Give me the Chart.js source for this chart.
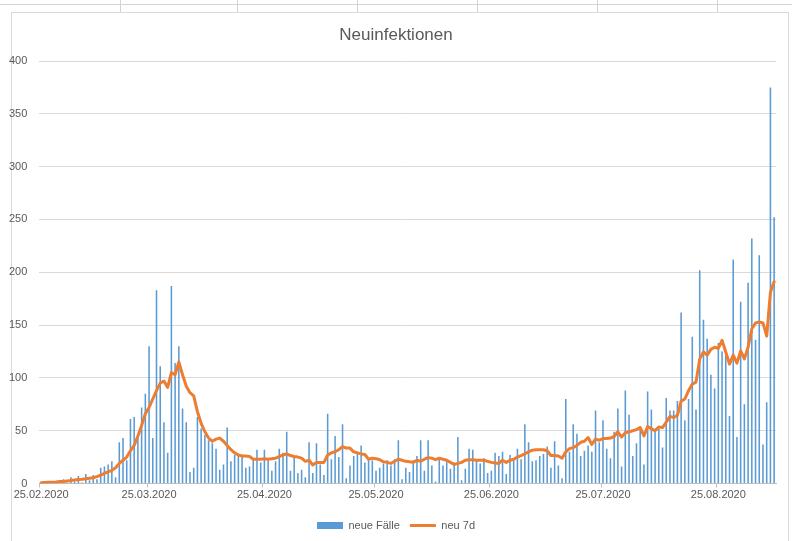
<!DOCTYPE html>
<html>
<head>
<meta charset="utf-8">
<title>Neuinfektionen</title>
<script src="https://cdn.jsdelivr.net/npm/chart.js@4/dist/chart.umd.min.js"></script>
<style>
    html, body { margin: 0; padding: 0; background: #fff; }
    #wrap { position: relative; width: 792px; height: 541px; overflow: hidden; }
    .col { position: absolute; top: 0; width: 1px; height: 12px; background: #d4d4d4; }
    #row { position: absolute; left: 0; top: 4px; width: 792px; height: 1px; background: #d4d4d4; }
    #frame { position: absolute; left: 11px; top: 12px; width: 778px; height: 540px;
             border: 1px solid #d9d9d9; box-sizing: border-box; }
    canvas { position: absolute; left: 0; top: 0; }
</style>
</head>
<body>
<div id="wrap">
    <div id="row"></div>
    <div class="col" style="left:120px"></div>
    <div class="col" style="left:237px"></div>
    <div class="col" style="left:357px"></div>
    <div class="col" style="left:477px"></div>
    <div class="col" style="left:597px"></div>
    <div class="col" style="left:717px"></div>
    <div id="frame"></div>
    <canvas id="chart" width="792" height="541"></canvas>
</div>
<script>
// daily new cases from 25.02.2020
const newCases = [
    0, 1, 0, 2, 1, 0, 4, 1, 6, 2,
    7, 1, 9, 3, 8, 4, 15, 16, 18, 21,
    6, 39, 43, 22, 61, 63, 44, 72, 85, 130,
    43, 183, 111, 58, 29, 187, 114, 130, 71, 58,
    11, 15, 63, 52, 46, 41, 38, 33, 13, 18,
    53, 21, 27, 26, 25, 15, 16, 22, 32, 20,
    32, 22, 12, 21, 33, 29, 49, 12, 25, 10,
    13, 6, 39, 10, 38, 18, 8, 66, 23, 45,
    25, 56, 5, 17, 26, 28, 36, 20, 22, 22,
    12, 15, 19, 22, 17, 23, 41, 4, 15, 11,
    22, 26, 41, 12, 41, 17, 2, 23, 17, 23,
    14, 20, 44, 3, 14, 33, 32, 22, 19, 24,
    10, 12, 29, 26, 30, 9, 27, 23, 33, 23,
    56, 39, 21, 22, 26, 28, 35, 15, 40, 17,
    5, 80, 30, 56, 47, 26, 31, 36, 30, 69,
    39, 60, 33, 24, 49, 71, 16, 88, 65, 26,
    38, 54, 18, 87, 70, 50, 52, 34, 81, 69,
    69, 78, 162, 60, 80, 139, 70, 202, 155, 137,
    103, 90, 133, 125, 122, 64, 212, 44, 172, 75,
    190, 232, 136, 216, 37, 77, 375, 252
];

// 7 day line
const avg7 = [
    0.6, 0.9, 1.1, 1.3, 1.5, 1.8, 2, 2.4, 2.8, 3.3,
    3.7, 4, 4.4, 5, 5.5, 6.5, 8, 9.5, 11, 12.5,
    15, 19, 22, 25, 31, 36, 45, 55, 66, 72,
    80, 88, 95, 97, 91, 105, 103, 115, 103, 92,
    86, 83, 68, 57, 49, 43, 40, 42, 43, 40,
    36, 32, 29, 27, 26, 26, 25.5, 23, 23, 23,
    23.5, 23, 23.5, 24, 25.5, 27, 28, 26.5, 25.5, 25,
    24, 21, 22, 17.5, 20, 20, 20, 27, 29, 30,
    32, 35, 33.5, 33.5, 30, 29, 28, 27.5, 23, 24,
    23.5, 22.5, 20.5, 20, 19, 21, 23, 22, 21, 20.5,
    20, 22, 21, 23, 24.5, 24, 22.5, 24, 23, 22,
    20, 18, 19, 20, 22, 22.5, 22.5, 22, 22, 22,
    21, 20, 19.5, 19, 22, 20, 22, 23, 25, 26.5,
    28, 30, 31.5, 32, 32, 32, 31, 26.5, 26.5, 26,
    24, 30, 33, 34, 36, 39, 40, 43.5, 37, 42,
    41, 42.5, 42.5, 43, 44.5, 49, 44, 48, 49, 50,
    51, 53, 45, 54, 52, 50, 53.5, 53, 58, 63.5,
    62.5, 64.5, 78, 80, 88, 94, 96, 118, 124.5, 121.5,
    127, 129, 128, 135.5, 124.5, 113, 121.5, 114, 125.5, 118,
    129, 146.5, 152, 153, 152, 139.5, 181, 191
];

const pad = n => String(n).padStart(2, "0");
const days = newCases.map((_, i) => {
    const d = new Date(2020, 1, 25 + i);
    return `${pad(d.getDate())}.${pad(d.getMonth() + 1)}.${d.getFullYear()}`;
});

const isTick = i => days[i] !== undefined && days[i].startsWith("25.");

const gray = "#595959";
const font = "'Liberation Sans', Arial, sans-serif";

// title and legend sit in the middle of the whole canvas, not of the plot
const centerBoxes = {
    id: "centerBoxes",
    afterLayout(chart) {
        [chart.titleBlock, chart.legend].forEach(box => {
            if (!box) return;
            const shift = (chart.width - box.left - box.right) / 2;
            box.left += shift;
            box.right += shift;
        });
    }
};

new Chart(document.getElementById("chart"), {
    data: {
        labels: days,
        datasets: [
            {
                type: "bar",
                label: "neue Fälle",
                data: newCases,
                backgroundColor: "#5b9bd5",
                borderWidth: 0,
                barPercentage: 0.42,
                categoryPercentage: 1,
                order: 1
            },
            {
                type: "line",
                label: "neu 7d",
                data: avg7,
                borderColor: "#ed7d31",
                backgroundColor: "#ed7d31",
                borderWidth: 3,
                pointRadius: 0,
                tension: 0,
                borderJoinStyle: "round",
                borderCapStyle: "round",
                fill: false,
                order: 0
            }
        ]
    },
    plugins: [centerBoxes],
    options: {
        responsive: false,
        animation: false,
        layout: { padding: { top: 12, bottom: 0, left: 0, right: 16 } },
        plugins: {
            title: {
                display: true,
                text: "Neuinfektionen",
                color: gray,
                font: { family: font, size: 17, weight: "normal" },
                padding: { top: 13, bottom: 15.6 }
            },
            legend: {
                position: "bottom",
                reverse: true,
                labels: {
                    color: gray,
                    font: { family: font, size: 11 },
                    usePointStyle: true,
                    pointStyleWidth: 26,
                    boxHeight: 7,
                    padding: 10,
                    generateLabels: chart => {
                        const items = Chart.defaults.plugins.legend.labels.generateLabels(chart);
                        items.forEach(it => {
                            const ds = chart.data.datasets[it.datasetIndex];
                            it.pointStyle = ds.type === "line" ? "line" : "rect";
                            it.lineWidth = ds.type === "line" ? 3 : 0;
                        });
                        return items;
                    }
                }
            },
            tooltip: { enabled: false }
        },
        scales: {
            x: {
                offset: true,
                grid: {
                    offset: true,
                    drawOnChartArea: false,
                    drawTicks: true,
                    tickLength: 4,
                    color: ctx => isTick(ctx.index) ? "#bfbfbf" : "rgba(0,0,0,0)"
                },
                border: { color: "#bfbfbf" },
                ticks: {
                    autoSkip: false,
                    maxRotation: 0,
                    minRotation: 0,
                    padding: 1,
                    color: gray,
                    font: { family: font, size: 11 },
                    callback: function (value, index) {
                        return isTick(index) ? days[index] : "";
                    }
                },
                afterFit: scale => { scale.height = 26.5; }
            },
            y: {
                min: 0,
                max: 400,
                ticks: {
                    stepSize: 50,
                    padding: 12,
                    color: gray,
                    font: { family: font, size: 11 }
                },
                grid: { color: "#d9d9d9", drawTicks: false },
                border: { display: false },
                afterFit: scale => { scale.width = 39.3; }
            }
        }
    }
});
</script>
</body>
</html>
